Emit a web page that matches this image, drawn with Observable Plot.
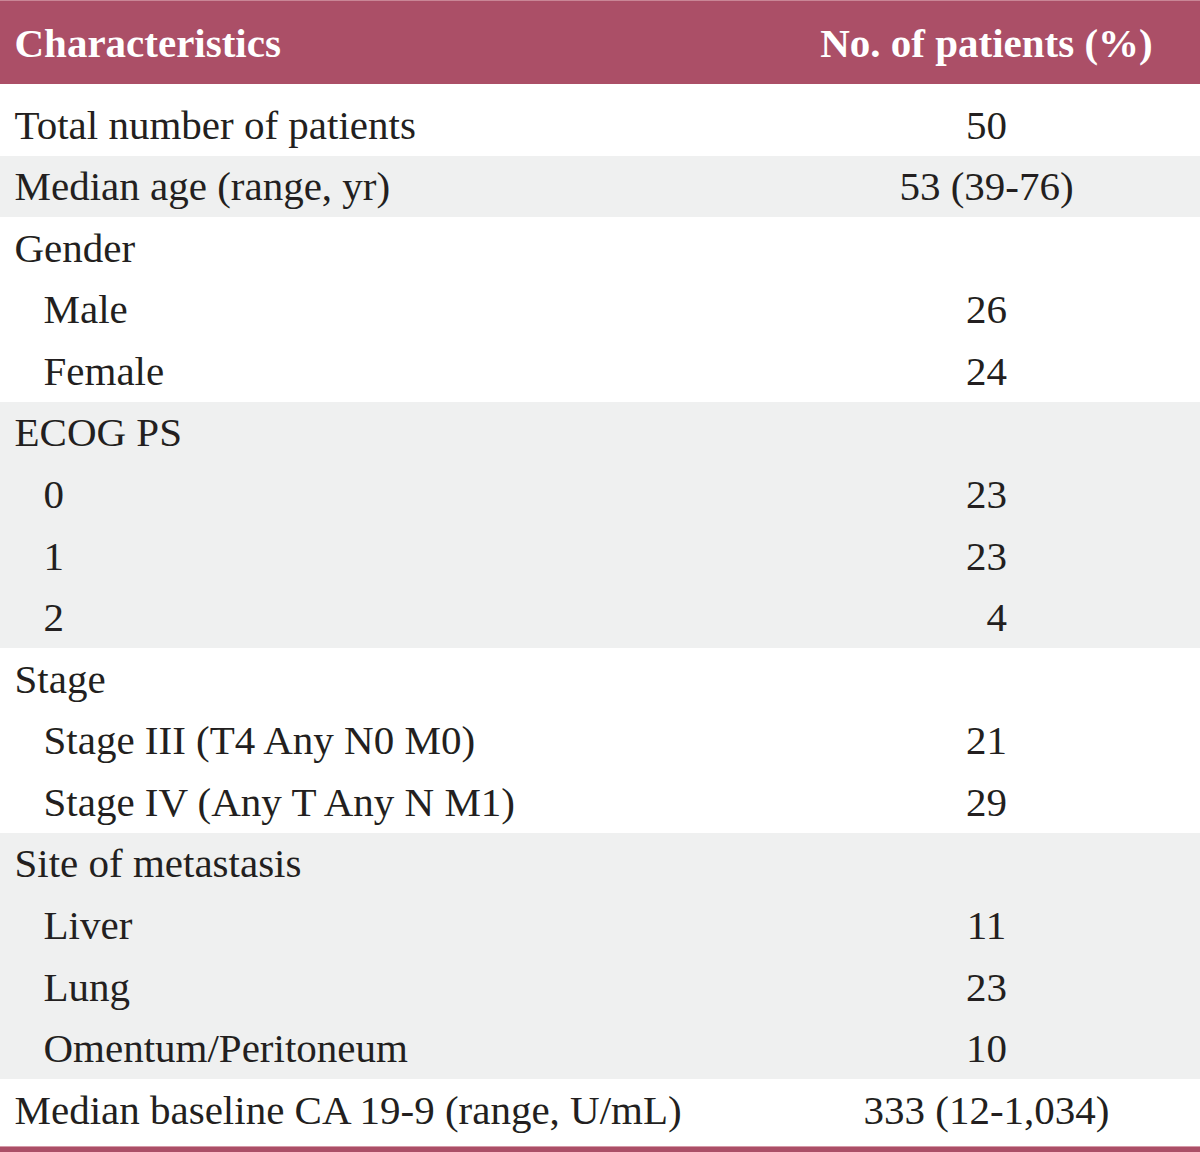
<!DOCTYPE html>
<html>
<head>
<meta charset="utf-8">
<script src="https://cdn.jsdelivr.net/npm/d3@7"></script>
<script src="https://cdn.jsdelivr.net/npm/@observablehq/plot@0.6"></script>
<style>
  html, body { margin: 0; padding: 0; background: #ffffff; }
  #chart svg { display: block; }
</style>
</head>
<body>
<div id="chart"></div>
<script>
const headers = ["Characteristics", "No. of patients (%)"];
const labels = [
  "Total number of patients",
  "Median age (range, yr)",
  "Gender",
  "Male",
  "Female",
  "ECOG PS",
  "0",
  "1",
  "2",
  "Stage",
  "Stage III (T4 Any N0 M0)",
  "Stage IV (Any T Any N M1)",
  "Site of metastasis",
  "Liver",
  "Lung",
  "Omentum/Peritoneum",
  "Median baseline CA 19-9 (range, U/mL)"
];
const values = ["50", "53 (39-76)", "", "26", "24", "", "23", "23", "4", "", "21", "29", "", "11", "23", "10", "333 (12-1,034)"];
const indentLevel = [0, 0, 0, 1, 1, 0, 1, 1, 1, 0, 1, 1, 0, 1, 1, 1, 0];
const shaded = [false, true, false, false, false, true, true, true, true, false, false, false, true, true, true, true, false];

// ---- Build rows ----
const rows = labels.map((label, i) => ({
  row: i,
  label,
  value: values[i],
  indent: indentLevel[i],
  shaded: shaded[i]
}));

// pad single-digit counts with a figure space so digits line up like the original
const padValue = v => (/^\d$/.test(v) ? "\u2007" + v : v);

const W = 1200, H = 1152;
const yTop = -2.03, yBottom = 16.68;       // row-index extent of the frame
const headerBottom = -0.665, headerCenter = -1.32;
const ruleTop = 16.575;

const headerColor = "#AB4F67";
const bandColor = "#EFF0F0";
const ink = "#231F20";

const chart = Plot.plot({
  width: W,
  height: H,
  margin: 0,
  x: { type: "point", domain: ["label", "value"], range: [14, 986], padding: 0, axis: null },
  y: { domain: [yTop, yBottom], range: [0, H], axis: null },
  style: { background: "#ffffff", fontFamily: "'Liberation Serif', 'Times New Roman', serif" },
  marks: [
    // shaded row bands
    Plot.rect(rows.filter(d => d.shaded), {
      y1: d => d.row - 0.5,
      y2: d => d.row + 0.5,
      fill: bandColor,
      shapeRendering: "crispEdges"
    }),
    // header band
    Plot.rect([{ y1: yTop, y2: headerBottom }], { y1: "y1", y2: "y2", fill: headerColor, shapeRendering: "crispEdges" }),
    Plot.rect([{ y1: yTop, y2: yTop + 0.02 }], { y1: "y1", y2: "y2", fill: "#C98696", shapeRendering: "crispEdges" }),
    // bottom rule
    Plot.rect([{ y1: ruleTop, y2: yBottom }], { y1: "y1", y2: "y2", fill: headerColor, shapeRendering: "crispEdges" }),
    Plot.rect([{ y1: ruleTop, y2: ruleTop + 0.02 }], { y1: "y1", y2: "y2", fill: "#D59AA8", shapeRendering: "crispEdges" }),
    // header text
    Plot.text([headers[0]], {
      x: () => "label", y: () => headerCenter, text: d => d,
      textAnchor: "start", fill: "#ffffff", fontWeight: "bold", fontSize: 41
    }),
    Plot.text([headers[1]], {
      x: () => "value", y: () => headerCenter, text: d => d,
      textAnchor: "middle", fill: "#ffffff", fontWeight: "bold", fontSize: 41
    }),
    // label column (top-level)
    Plot.text(rows.filter(d => d.indent === 0), {
      x: () => "label", y: "row", text: "label",
      textAnchor: "start", fill: ink, fontSize: 41
    }),
    // label column (indented)
    Plot.text(rows.filter(d => d.indent === 1), {
      x: () => "label", y: "row", text: "label", dx: 29,
      textAnchor: "start", fill: ink, fontSize: 41
    }),
    // value column
    Plot.text(rows.filter(d => d.value !== ""), {
      x: () => "value", y: "row", text: d => padValue(d.value),
      textAnchor: "middle", fill: ink, fontSize: 41
    })
  ]
});

document.getElementById("chart").appendChild(chart);
</script>
</body>
</html>
